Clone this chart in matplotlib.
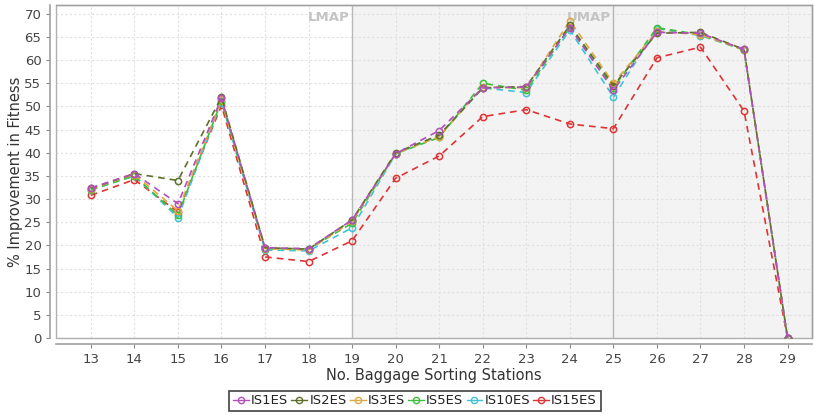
import matplotlib
matplotlib.use("Agg")
import matplotlib.pyplot as plt
from matplotlib.lines import Line2D
from matplotlib.patches import Rectangle

stations = [13, 14, 15, 16, 17, 18, 19, 20, 21, 22, 23, 24, 25, 26, 27, 28, 29]

is1es = [32.4, 35.5, 29.0, 51.8, 19.5, 19.3, 25.5, 39.8, 44.8, 54.0, 54.2, 67.0, 53.5, 66.0, 65.8, 62.3, 0]
is2es = [32.3, 35.5, 34.0, 52.0, 19.5, 19.2, 25.5, 40.0, 43.8, 54.0, 54.3, 67.5, 54.5, 65.8, 66.0, 62.3, 0]
is3es = [32.2, 35.3, 27.5, 51.5, 19.3, 19.0, 25.2, 39.8, 43.5, 54.2, 54.0, 68.5, 55.0, 66.2, 65.5, 62.2, 0]
is5es = [32.0, 35.0, 26.5, 51.2, 19.3, 19.2, 24.8, 39.8, 43.3, 55.0, 53.5, 67.2, 54.0, 67.0, 65.5, 62.2, 0]
is10es = [32.0, 35.0, 26.0, 51.0, 19.0, 18.8, 23.8, 39.7, 43.7, 54.0, 53.0, 66.5, 52.0, 66.8, 65.3, 62.2, 0]
is15es = [30.8, 34.2, 27.2, 50.2, 17.5, 16.5, 21.0, 34.5, 39.3, 47.8, 49.3, 46.2, 45.2, 60.5, 62.8, 49.0, 0]

series_names = ["IS1ES", "IS2ES", "IS3ES", "IS5ES", "IS10ES", "IS15ES"]
series_values = [is1es, is2es, is3es, is5es, is10es, is15es]
series_colors = ["#b050b8", "#5e6f28", "#e0a840", "#3cc03c", "#40c4d4", "#e03434"]

markers_x = [19, 25]
marker_labels = ["LMAP", "UMAP"]

x_ticks = list(range(13, 30))
y_ticks = list(range(0, 71, 5))

fig = plt.figure(figsize=(8.14, 4.16), dpi=100)
ax = fig.add_axes([0.0688, 0.1875, 0.9287, 0.8005])

xmin, xmax = 12.2, 29.56
ymin, ymax = 0, 71.9
ax.set_xlim(xmin, xmax)
ax.set_ylim(ymin, ymax)

# shaded region after the lower marker
ax.axvspan(markers_x[0], xmax, color="#f3f3f3", zorder=0, lw=0)
ax.grid(True, color="#e0e0e0", linestyle=(0, (2, 2)), linewidth=0.8, zorder=0.5)
ax.set_axisbelow(True)

for xv, lab in zip(markers_x, marker_labels):
    ax.axvline(xv, color="#b8b8b8", lw=1.0, zorder=1)
    ax.text(xv - 0.05, ymax - 1.2, lab, ha="right", va="top", color="#c4c4c4",
            fontsize=9.5, fontweight="bold", zorder=1)

n = len(series_names)
for i, (name, vals, col) in enumerate(zip(series_names, series_values, series_colors)):
    ax.plot(stations, vals, color=col, linestyle=(0, (4, 3)), linewidth=1.2,
            marker="o", markersize=4.5, markerfacecolor="none", markeredgewidth=1.1,
            markeredgecolor=col, zorder=10 + (n - i), label=name)

ax.set_xticks(x_ticks)
ax.set_yticks(y_ticks)
ax.tick_params(axis="both", colors="#888888", labelcolor="#444444", labelsize=9.5,
               length=3, width=0.8, direction="out")

for s in ["top", "right"]:
    ax.spines[s].set_color("#a0a0a0")
    ax.spines[s].set_linewidth(1.0)
for s in ["left", "bottom"]:
    ax.spines[s].set_position(("outward", 4))
    ax.spines[s].set_color("#a0a0a0")
    ax.spines[s].set_linewidth(1.2)

# plot area outline along the left and bottom edges
ax.add_patch(Rectangle((0, 0), 1, 1, transform=ax.transAxes, fill=False,
                       edgecolor="#b0b0b0", lw=1.0, zorder=2, clip_on=False))

ax.set_xlabel("No. Baggage Sorting Stations", fontsize=10.5, color="#333333", labelpad=2)
ax.set_ylabel("% Improvement in Fitness", fontsize=10.5, color="#333333", labelpad=1)

handles = [Line2D([0], [0], color=c, lw=1.0, marker="o", markersize=4.5,
                  markerfacecolor="none", markeredgecolor=c) for c in series_colors]
leg = fig.legend(handles, series_names, loc="center", bbox_to_anchor=(415 / 814, 1 - 401 / 416),
                 ncol=6, fontsize=9.5, frameon=True, fancybox=False, handlelength=1.2,
                 handletextpad=0.15, columnspacing=0.25, borderpad=0.3, borderaxespad=0)
leg.get_frame().set_edgecolor("#111111")
leg.get_frame().set_linewidth(1.2)
for t in leg.get_texts():
    t.set_color("#222222")

fig.savefig("out.png", dpi=100)
